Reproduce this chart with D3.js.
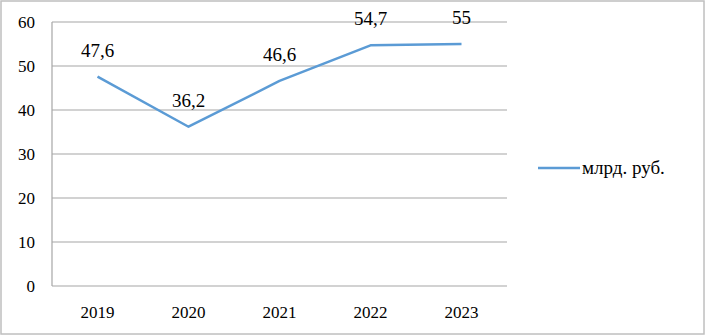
<!DOCTYPE html>
<html><head><meta charset="utf-8">
<script src="https://cdn.jsdelivr.net/npm/d3@7"></script>
</head><body style="margin:0"><svg id="c" width="705" height="335"></svg>
<script>
const categories = ["2019","2020","2021","2022","2023"];
const values = [47.6, 36.2, 46.6, 54.7, 55];
const labels = ["47,6","36,2","46,6","54,7","55"];
const yTicks = [0,10,20,30,40,50,60];
const seriesName = "млрд. руб.";

const svg = d3.select("#c");
svg.append("rect").attr("x",1).attr("y",1).attr("width",703).attr("height",333)
  .attr("fill","#fff").attr("stroke","#bfbfbf").attr("stroke-width",1.5);

const x = d3.scaleBand().domain(categories).range([52, 507]);
const y = d3.scaleLinear().domain([0,60]).range([286, 22]);
const cx = d => x(d) + x.bandwidth()/2;

svg.selectAll("line.grid").data(yTicks).join("line").attr("class","grid")
  .attr("x1", 52).attr("x2", 507).attr("y1", d=>y(d)).attr("y2", d=>y(d))
  .attr("stroke","#a6a6a6").attr("stroke-width",1.2);
svg.append("line").attr("x1",52).attr("x2",52).attr("y1",y(60)).attr("y2",y(0))
  .attr("stroke","#a6a6a6").attr("stroke-width",1.2);

svg.selectAll("text.yt").data(yTicks).join("text").attr("class","yt")
  .attr("x",35).attr("y",d=>y(d)+6).attr("text-anchor","end")
  .attr("font-family","Liberation Serif").attr("font-size",17).text(d=>d);

svg.selectAll("text.xt").data(categories).join("text").attr("class","xt")
  .attr("x",d=>cx(d)).attr("y",318).attr("text-anchor","middle")
  .attr("font-family","Liberation Serif").attr("font-size",17).text(d=>d);

const line = d3.line().x((d,i)=>cx(categories[i])).y(d=>y(d));
svg.append("path").datum(values).attr("d", line).attr("fill","none")
  .attr("stroke","#5b9bd5").attr("stroke-width",2.5).attr("stroke-linejoin","round");

svg.selectAll("text.dl").data(values).join("text").attr("class","dl")
  .attr("x",(d,i)=>cx(categories[i])).attr("y",d=>y(d)-20)
  .attr("text-anchor","middle").attr("font-family","Liberation Serif").attr("font-size",19)
  .text((d,i)=>labels[i]);

svg.append("line").attr("x1",538).attr("x2",580).attr("y1",168).attr("y2",168)
  .attr("stroke","#5b9bd5").attr("stroke-width",2.5);
svg.append("text").attr("x",582).attr("y",174).attr("font-family","Liberation Serif")
  .attr("font-size",19).text(seriesName);
</script></body></html>
